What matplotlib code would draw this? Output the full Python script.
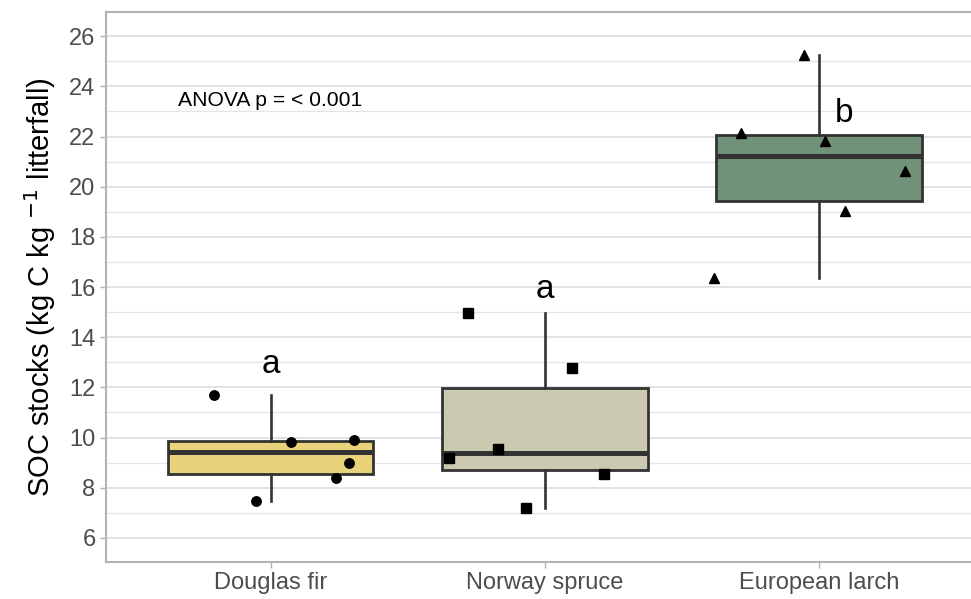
import matplotlib
matplotlib.use("Agg")
from matplotlib import pyplot as plt
from matplotlib.ticker import MultipleLocator

plt.rcParams['font.family'] = ['Liberation Sans', 'DejaVu Sans']

species = ['Douglas fir', 'Norway spruce', 'European larch']
douglas = [11.70, 9.82, 9.90, 8.99, 8.39, 7.47]
spruce = [14.96, 12.77, 9.55, 9.19, 8.55, 7.20]
larch = [25.24, 22.14, 21.82, 20.62, 19.03, 16.36]
# horizontal jitter of the raw points
jit_douglas = [-0.207, 0.076, 0.305, 0.287, 0.240, -0.055]
jit_spruce = [-0.280, 0.100, -0.170, -0.350, 0.215, -0.070]
jit_larch = [-0.055, -0.287, 0.022, 0.313, 0.095, -0.385]
letters = ['a', 'a', 'b']
letter_y = [12.9, 15.9, 22.9]
letter_dx = [0.0, 0.0, 0.09]

groups = [douglas, spruce, larch]
jitters = [jit_douglas, jit_spruce, jit_larch]
fills = ['#E8D27A', '#CBCAB0', '#6F9279']
markers = ['o', 's', '^']

fig = plt.figure(figsize=(9.71, 5.99), dpi=100)
ax = fig.add_axes([0.1092, 0.0618, 0.904, 0.918])

pos = [1, 2, 3]
bp = ax.boxplot(groups, positions=pos, widths=0.75, whis=1.5,
                patch_artist=True, showfliers=False, showcaps=False,
                boxprops=dict(edgecolor='#333333', linewidth=2.0),
                medianprops=dict(color='#333333', linewidth=3.6),
                whiskerprops=dict(color='#333333', linewidth=1.9),
                zorder=3)
for patch, c in zip(bp['boxes'], fills):
    patch.set_facecolor(c)

for i, (vals, jit, m) in enumerate(zip(groups, jitters, markers)):
    xs = [pos[i] + j for j in jit]
    ms = 6.8 if m != '^' else 7.2
    ax.plot(xs, vals, linestyle='none', marker=m, color='black',
            markersize=ms, zorder=4)

for i, (lab, y, dx) in enumerate(zip(letters, letter_y, letter_dx)):
    ax.text(pos[i] + dx, y, lab, ha='center', va='center', fontsize=24,
            color='black', zorder=5)

ax.text(1, 23.45, 'ANOVA p = < 0.001', ha='center', va='center',
        fontsize=15.2, color='black')

ax.set_xlim(0.4, 3.6)
ax.set_ylim(5.04, 26.96)
ax.yaxis.set_major_locator(MultipleLocator(2))
ax.yaxis.set_minor_locator(MultipleLocator(1))
ax.set_xticks(pos)
ax.set_xticklabels(species)
ax.grid(axis='y', which='major', color='#DDDDDD', linewidth=1.2, zorder=0)
ax.grid(axis='y', which='minor', color='#E4E4E4', linewidth=0.9, zorder=0)
ax.set_axisbelow(True)

ax.tick_params(axis='both', which='major', labelsize=17, labelcolor='#4D4D4D',
               color='#B3B3B3', length=4, width=1)
ax.tick_params(axis='y', which='minor', length=0)
for s in ax.spines.values():
    s.set_color('#B3B3B3')
    s.set_linewidth(1.5)

ax.set_ylabel('SOC stocks (kg C kg $^{-1}$ litterfall)', fontsize=21, color='black',
              labelpad=8)

fig.savefig('out.png', dpi=100)
